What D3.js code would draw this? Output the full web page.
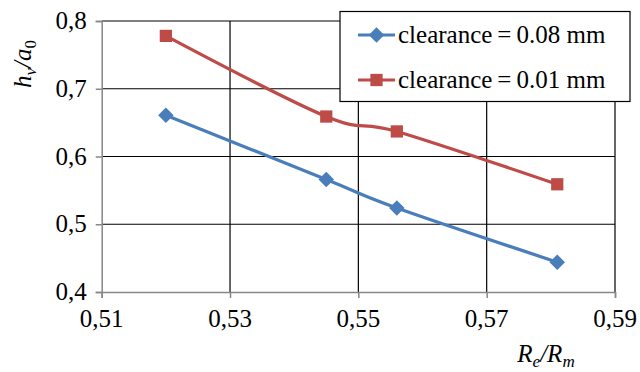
<!DOCTYPE html>
<html><head><meta charset="utf-8"><script src="https://cdn.jsdelivr.net/npm/d3@7"></script></head>
<body style="margin:0">
<svg id="fig" width="640" height="372"></svg>
<script>
// Re/Rm ratio on the x axis
const ratios = [0.520, 0.545, 0.556, 0.581];
// hv/a0 for each clearance
const clearance008 = [0.661, 0.566, 0.524, 0.444];
const clearance001 = [0.778, 0.659, 0.637, 0.559];
const seriesNames = ["clearance\u2009=\u20090.08 mm", "clearance\u2009=\u20090.01 mm"];
const seriesColors = ["#4a7ebb", "#be4b48"];
const xTicks = [0.51, 0.53, 0.55, 0.57, 0.59];
const yTicks = [0.4, 0.5, 0.6, 0.7, 0.8];

const FONT = "Liberation Serif";
const FS = 25;
const svg = d3.select("#fig");
const plotLeft = 101.7, plotRight = 615, plotTop = 21, plotBottom = 292;

const x = d3.scaleLinear().domain([0.51, 0.59]).range([plotLeft, plotRight]);
const y = d3.scaleLinear().domain([0.4, 0.8]).range([plotBottom, plotTop]);

// grid
const grid = svg.append("g");
grid.selectAll("line.h").data(yTicks.slice(1)).join("line")
  .attr("x1", plotLeft).attr("x2", plotRight)
  .attr("y1", d => y(d)).attr("y2", d => y(d))
  .attr("stroke", "#000").attr("stroke-width", 1.2);
grid.selectAll("line.v").data(xTicks.slice(1)).join("line")
  .attr("y1", plotTop).attr("y2", plotBottom)
  .attr("x1", d => x(d)).attr("x2", d => x(d))
  .attr("stroke", "#000").attr("stroke-width", 1.2);

// axis lines and ticks (labels are added separately below)
const xAxis = svg.append("g").attr("transform", `translate(0,${plotBottom})`)
  .call(d3.axisBottom(x).tickValues(xTicks).tickSize(6).tickFormat(""));
const yAxis = svg.append("g").attr("transform", `translate(${plotLeft},0)`)
  .call(d3.axisLeft(y).tickValues(yTicks).tickSize(6).tickFormat(""));
[xAxis, yAxis].forEach(a => {
  a.select(".domain").attr("stroke", "#878787").attr("stroke-width", 1.5);
  a.selectAll(".tick line").attr("stroke", "#878787").attr("stroke-width", 1.5);
});

// series, smoothed
const line = d3.line().curve(d3.curveCardinal.tension(0))
  .x(d => x(d[0])).y(d => y(d[1]));
const allSeries = [clearance008, clearance001];
const markerPath = i => d3.symbol().type(d3.symbolSquare).size(i === 0 ? 120 : 150)();

allSeries.forEach((vals, i) => {
  const pts = ratios.map((r, j) => [r, vals[j]]);
  svg.append("path").attr("d", line(pts)).attr("fill", "none")
    .attr("stroke", seriesColors[i]).attr("stroke-width", 3.2);
  svg.selectAll(null).data(pts).join("path")
    .attr("transform", d => `translate(${x(d[0])},${y(d[1])})` + (i === 0 ? " rotate(45)" : ""))
    .attr("d", markerPath(i))
    .attr("fill", seriesColors[i]);
});

// legend box and keys
const lg = svg.append("g");
lg.append("rect").attr("x", 340).attr("y", 11.5).attr("width", 290).attr("height", 90)
  .attr("fill", "#fff").attr("stroke", "#000").attr("stroke-width", 1.2);
seriesNames.forEach((name, i) => {
  const cy = 35 + i * 45;
  lg.append("line").attr("x1", 358).attr("x2", 395).attr("y1", cy).attr("y2", cy)
    .attr("stroke", seriesColors[i]).attr("stroke-width", 3.2);
  lg.append("path")
    .attr("transform", `translate(376.5,${cy})` + (i === 0 ? " rotate(45)" : ""))
    .attr("d", markerPath(i))
    .attr("fill", seriesColors[i]);
});

// all text as direct children of the svg
svg.selectAll("text.xl").data(xTicks).join("text").attr("class", "xl")
  .attr("x", d => x(d)).attr("y", plotBottom + 35)
  .attr("text-anchor", "middle")
  .attr("font-family", FONT).attr("font-size", FS)
  .text(d => d3.format(".2f")(d).replace(".", ","));
svg.selectAll("text.yl").data(yTicks).join("text").attr("class", "yl")
  .attr("x", plotLeft - 15).attr("y", d => y(d) + 8)
  .attr("text-anchor", "end")
  .attr("font-family", FONT).attr("font-size", FS)
  .text(d => d3.format(".1f")(d).replace(".", ","));
svg.selectAll("text.lg").data(seriesNames).join("text").attr("class", "lg")
  .attr("x", 398).attr("y", (d, i) => 43 + i * 45)
  .attr("font-family", FONT).attr("font-size", FS)
  .text(d => d);

// axis titles
const yt = svg.append("text").attr("font-family", FONT).attr("font-size", FS)
  .attr("transform", "translate(31,64) rotate(-90)")
  .attr("text-anchor", "middle").attr("font-style", "italic");
yt.append("tspan").text("h");
yt.append("tspan").attr("dy", 5).attr("font-size", 17).text("v");
yt.append("tspan").attr("dy", -5).text("/a");
yt.append("tspan").attr("dy", 5).attr("font-size", 17).attr("font-style", "normal").text("0");

const xt = svg.append("text").attr("font-family", FONT).attr("font-size", FS)
  .attr("x", 546).attr("y", 362)
  .attr("text-anchor", "middle").attr("font-style", "italic");
xt.append("tspan").text("R");
xt.append("tspan").attr("dy", 5).attr("font-size", 17).text("e");
xt.append("tspan").attr("dy", -5).text("/R");
xt.append("tspan").attr("dy", 5).attr("font-size", 17).text("m");
</script>
</body>
</html>
